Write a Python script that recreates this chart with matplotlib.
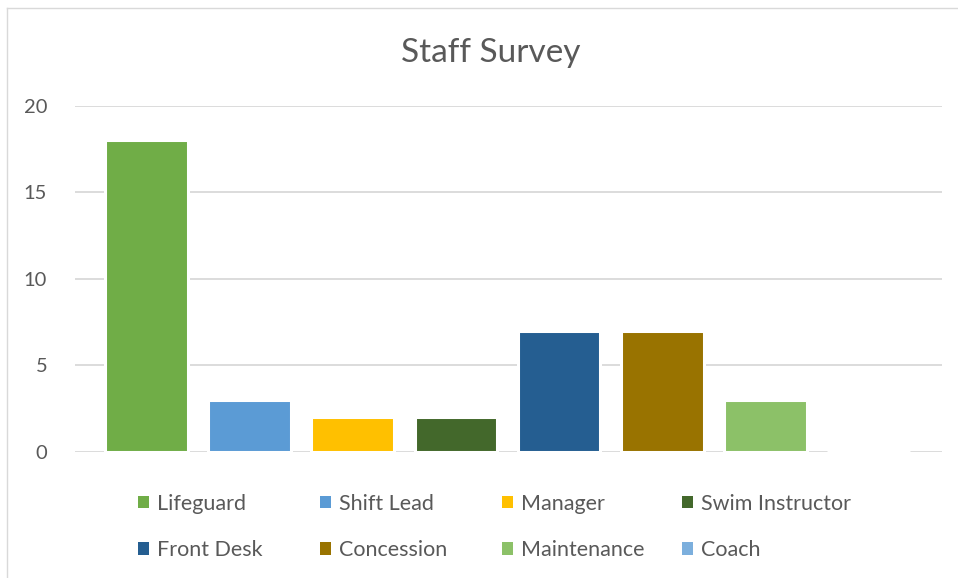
import matplotlib.pyplot as plt
from matplotlib.patches import Patch

roles = ["Lifeguard", "Shift Lead", "Manager", "Swim Instructor",
         "Front Desk", "Concession", "Maintenance", "Coach"]
counts = [18, 3, 2, 2, 7, 7, 3, 0]
colors = ["#70AD47", "#5B9BD5", "#FFC000", "#43682B",
          "#255E91", "#997300", "#8CC168", "#7CAFDD"]
yticks = [0, 5, 10, 15, 20]

plt.rcParams['font.family'] = ['Lato', 'DejaVu Sans']

fig = plt.figure(figsize=(9.58, 5.78), dpi=100)
W, H = 958, 578
ax = fig.add_axes([75 / W, (H - 451.7) / H, (942 - 75) / W, (451.7 - 105.7) / H])

x = list(range(len(roles)))
ax.bar(x, counts, width=0.8, color=colors, edgecolor="white", linewidth=2.2, zorder=3)

ax.set_xlim(-0.69, 7.71)
ax.set_ylim(0, 20)
ax.set_yticks(yticks)
ax.set_xticks([])
ax.yaxis.grid(True, color="#D9D9D9", linewidth=1.3, zorder=0)
ax.set_axisbelow(True)
for s in ax.spines.values():
    s.set_visible(False)
ax.tick_params(axis="y", length=0, pad=20, labelsize=14.5, labelcolor="#595959")

fig.text(491 / W, 1 - 53 / H, "Staff Survey", ha="center", va="center",
         fontsize=24, color="#595959")

# legend: 4 fixed-width columns, 2 rows
handles = [Patch(facecolor=c, edgecolor="none") for c in colors]
col_x = [138, 320, 502, 682]
for c in range(4):
    leg = fig.legend([handles[c], handles[c + 4]], [roles[c], roles[c + 4]],
                     loc="upper left", bbox_to_anchor=(col_x[c] / W, 1 - 494 / H),
                     frameon=False, fontsize=15.5, handlelength=0.5, handleheight=0.5,
                     handletextpad=0.4, labelspacing=1.22, borderaxespad=0, borderpad=0)
    for t in leg.get_texts():
        t.set_color("#595959")

# chart border
fig.add_artist(plt.Line2D([6.5 / W, 6.5 / W], [0, 1 - 7.5 / H], transform=fig.transFigure,
                          color="#D9D9D9", linewidth=1))
fig.add_artist(plt.Line2D([6.5 / W, 1], [1 - 7.5 / H, 1 - 7.5 / H], transform=fig.transFigure,
                          color="#D9D9D9", linewidth=1))

fig.savefig("out.png", dpi=100)
